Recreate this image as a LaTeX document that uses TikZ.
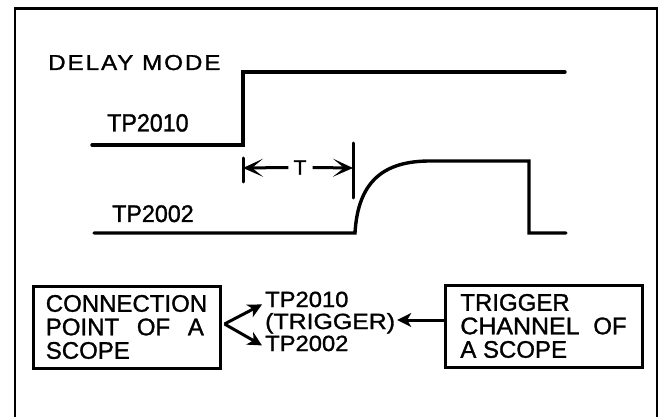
\documentclass[tikz,border=0pt]{standalone}
\usepackage{fontspec}
\setmainfont{Liberation Sans}[FakeBold=1.2]
\usepackage{graphicx}
\usetikzlibrary{arrows.meta}
\newcommand{\fsz}[2]{\fontsize{#1}{#2}\selectfont}
\begin{document}
\begin{tikzpicture}[x=1pt,y=-1pt,
 wave/.style={line width=3.4pt, line join=miter, line cap=round},
 frame/.style={line width=2.4pt},
 box/.style={draw, line width=3pt, inner sep=0pt, align=left, font=\fsz{24}{23.5}},
 lbl/.style={inner sep=0pt, anchor=base west},
 arr/.style={line width=3pt, -{Stealth[length=14pt,width=14pt,inset=4pt]}},
 dim/.style={line width=3pt, -{Stealth[length=20pt,width=18pt,inset=11pt]}},
 bar/.style={line width=3pt, line cap=round}]
\useasboundingbox (0,0) rectangle (659,417);
\fill[white] (0,0) rectangle (659,417);
\draw[frame] (15,420) -- (15,8.5) -- (657,8.5) -- (657,420);

% upper labels
\node[lbl, font=\fsz{21.6}{24}\addfontfeature{LetterSpace=8}] (dm) at (48,70) {\scalebox{1.12}[1]{DELAY MODE}};
\node[lbl, font=\fsz{25}{25}] (tp1) at (107,131.5) {\scalebox{0.93}[1]{TP2010}};
\node[lbl, font=\fsz{24}{24}] (tp2) at (112,222) {\scalebox{0.97}[1]{TP2002}};

% waveforms
\draw[wave] (92,145) -- (243,145) -- (243,72) -- (565,72);
\draw[wave] (94,233) -- (355,233) .. controls (358,180) and (385,161) .. (430,161) -- (529,161) -- (529,233) -- (566,233);

% delay dimension
\coordinate (L) at (243,168);
\coordinate (R) at (353,168);
\draw[bar] (243,158) -- (243,182);
\draw[bar] (353,143) -- (353,198);
\node[font=\fsz{21}{21}, inner sep=0pt] (T) at (300,167.5) {T};
\draw[dim] ([xshift=-5pt]T.west) -- (L);
\draw[dim] ([xshift=6pt]T.east) -- (R);

% lower boxes
\node[box, minimum width=187pt, minimum height=82pt] (conn) at (126.5,327)
  {CONNECTION\\POINT\hspace{11pt} OF\hspace{11pt} A\\SCOPE};
\node[box, minimum width=197pt, minimum height=82pt] (trig) at (543.5,326)
  {TRIGGER\\\scalebox{1.04}[1]{CHANNEL}\hspace{7pt} OF\\A SCOPE};

% test point labels
\node[lbl, font=\fsz{22}{22}] (ta) at (265,307) {\scalebox{1.08}[1]{TP2010}};
\node[lbl, font=\fsz{22}{22}] (tb) at (265,329) {\scalebox{1.13}[1]{(TRIGGER)}};
\node[lbl, font=\fsz{22}{22}] (tc) at (265,351) {\scalebox{1.08}[1]{TP2002}};

% connectors
\coordinate (v) at ([xshift=3pt,yshift=3pt]conn.east);
\draw[arr] (v) -- ([xshift=-3pt,yshift=-5pt]ta.west);
\draw[arr] (v) -- ([xshift=-3pt,yshift=-2pt]tc.west);
\coordinate (rs) at ([yshift=6pt]trig.west);
\draw[arr, shorten >=2pt] (rs) -- (tb.east |- rs);
\end{tikzpicture}
\end{document}
